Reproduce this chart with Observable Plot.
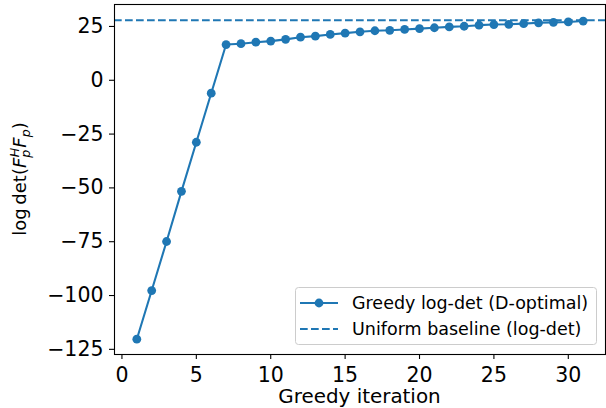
<!DOCTYPE html>
<html>
<head>
<meta charset="utf-8">
<script src="https://cdn.jsdelivr.net/npm/d3@7"></script>
<script src="https://cdn.jsdelivr.net/npm/@observablehq/plot@0.6"></script>
<style>
  html, body { margin: 0; padding: 0; background: white; }
  svg { display: block; }
</style>
</head>
<body>
<div id="chart"></div>
<script>
const iterations = [1,2,3,4,5,6,7,8,9,10,11,12,13,14,15,16,17,18,19,20,21,22,23,24,25,26,27,28,29,30,31];
const logdet = [-120.3,-97.7,-74.9,-51.6,-28.8,-6.0,16.6,17.0,17.7,18.2,19.0,20.0,20.5,21.3,21.9,22.5,23.0,23.2,23.6,24.0,24.4,24.8,25.1,25.6,25.9,26.0,26.3,26.7,26.9,27.1,27.5];
const baselineValue = 27.9;
const xTicks = [0,5,10,15,20,25,30];
const yTicks = [-125,-100,-75,-50,-25,0,25];
const legendLabels = ["Greedy log-det (D-optimal)", "Uniform baseline (log-det)"];
const color = "#1f77b4";

const data = iterations.map((it, i) => ({it, v: logdet[i]}));

const W = 606, H = 408, ML = 114, MR = 1, MT = 4, MB = 54;
const fmt = d => d < 0 ? "\u2212" + Math.abs(d) : String(d);

const chart = Plot.plot({
  width: W, height: H,
  marginLeft: ML, marginRight: MR, marginTop: MT, marginBottom: MB,
  style: {fontFamily: "DejaVu Sans", fontSize: "20.5px", background: "white", color: "black"},
  x: {domain: [-0.5, 32.5]},
  y: {domain: [-127.4, 35.2]},
  marks: [
    Plot.ruleY([baselineValue], {stroke: color, strokeWidth: 2.08, strokeDasharray: "7.7,3.3"}),
    Plot.line(data, {x: "it", y: "v", stroke: color, strokeWidth: 2.08}),
    Plot.dot(data, {x: "it", y: "v", r: 4.4, fill: color, stroke: "none"}),
    Plot.frame({stroke: "black", strokeWidth: 1.1}),
    Plot.axisX({ticks: xTicks, tickSize: 5, tickPadding: 8, fontSize: 20.5, label: null, tickFormat: fmt, strokeWidth: 1.1}),
    Plot.axisY({ticks: yTicks, tickSize: 5, tickPadding: 6, fontSize: 20.5, label: null, tickFormat: fmt, strokeWidth: 1.1})
  ]
});

document.getElementById("chart").appendChild(chart);
const svg = d3.select(chart);
svg.selectAll("g[aria-label$='tick label'], g[aria-label$='tick label'] text")
  .style("font-size", "20.5px")
  .style("font-family", "DejaVu Sans");

// X label
svg.append("text")
  .attr("x", (ML + W - MR) / 2).attr("y", 403)
  .attr("text-anchor", "middle")
  .style("font-size", "19.9px").attr("fill", "black")
  .text("Greedy iteration");

// Y label (math text)
const yl = svg.append("text")
  .attr("transform", `translate(26,${(MT + H - MB) / 2}) rotate(-90)`)
  .attr("text-anchor", "middle")
  .style("font-size", "18px").attr("fill", "black");
yl.append("tspan").text("log\u2009det(");
yl.append("tspan").attr("font-style", "italic").text("F");
yl.append("tspan").attr("font-style", "italic").style("font-size", "12.6px").attr("dy", 3.5).text("p");
yl.append("tspan").attr("font-style", "italic").style("font-size", "12.6px").attr("dx", -7.5).attr("dy", -11).text("H");
yl.append("tspan").attr("font-style", "italic").attr("dy", 7.5).text("F");
yl.append("tspan").attr("font-style", "italic").style("font-size", "12.6px").attr("dy", 3.5).text("p");
yl.append("tspan").attr("dy", -3.5).text(")");

// Legend
const lg = svg.append("g").attr("text-anchor", "start");
lg.append("rect")
  .attr("x", 295.5).attr("y", 287.5).attr("width", 301).attr("height", 57)
  .attr("rx", 3).attr("fill", "white").attr("fill-opacity", 0.8)
  .attr("stroke", "#cccccc").attr("stroke-width", 1);
const rows = [303, 329];
lg.append("line").attr("x1", 300).attr("x2", 338).attr("y1", rows[0]).attr("y2", rows[0])
  .attr("stroke", color).attr("stroke-width", 2.08);
lg.append("circle").attr("cx", 319).attr("cy", rows[0]).attr("r", 4.4).attr("fill", color);
lg.append("line").attr("x1", 300).attr("x2", 338).attr("y1", rows[1]).attr("y2", rows[1])
  .attr("stroke", color).attr("stroke-width", 2.08).attr("stroke-dasharray", "7.7,3.3");
legendLabels.forEach((t, i) => {
  lg.append("text").attr("x", 352).attr("y", rows[i]).attr("dy", "0.35em")
    .attr("text-anchor", "start")
    .style("font-size", "17.5px").attr("fill", "black").text(t);
});
</script>
</body>
</html>
